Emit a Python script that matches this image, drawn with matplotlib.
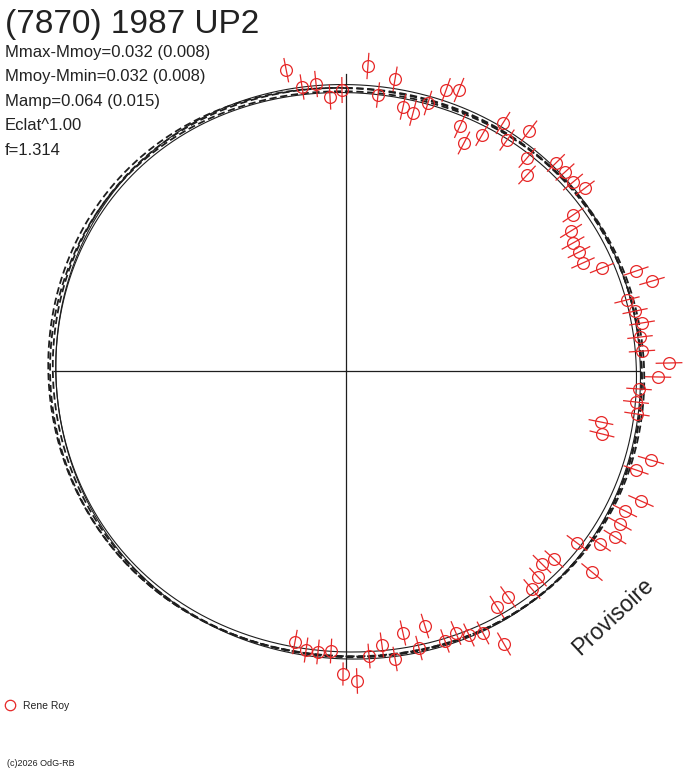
import numpy as np
import matplotlib
matplotlib.use("Agg")
import matplotlib.pyplot as plt
from matplotlib.lines import Line2D

plt.rcParams['font.family'] = ['Liberation Sans', 'DejaVu Sans']

# --- donnees : phase (0..1) et magnitude relative (mag) ---
phase = [0.969, 0.9758, 0.9837, 0.991, 0.998, 0.0117, 0.0187, 0.0268, 0.0342, 0.0408,
         0.0476, 0.0548, 0.0612, 0.0697, 0.0764, 0.0836, 0.0902, 0.0973, 0.1041, 0.1125,
         0.1191, 0.1261, 0.1330, 0.1399, 0.1464, 0.1546, 0.1618, 0.1687, 0.1753, 0.1823,
         0.1895, 0.1975, 0.2048, 0.2109, 0.2178, 0.2247, 0.2320, 0.2396, 0.2463, 0.2533,
         0.2600, 0.2672, 0.2736, 0.2817, 0.2886, 0.2954, 0.3025, 0.3162, 0.3241, 0.3311,
         0.3381, 0.3452, 0.3519, 0.3591, 0.3670, 0.3738, 0.3806, 0.3876, 0.4009, 0.4093,
         0.4164, 0.4232, 0.4305, 0.4366, 0.4439, 0.4520, 0.4588, 0.4657, 0.4729, 0.4790,
         0.4869, 0.4941, 0.5013, 0.5082, 0.5155, 0.5223, 0.5293]
mag = [0.0856, -0.011, -0.005, -0.0755, -0.0425, 0.0816, -0.058, 0.0334, -0.0965, -0.114,
       -0.0455, 0.045, 0.068, -0.095, -0.1625, -0.084, 0.022, -0.038, 0.0635, -0.0475,
       -0.111, 0.033, 0.0345, 0.032, 0.0605, -0.067, -0.119, -0.141, -0.136, -0.1415,
       -0.064, 0.0905, 0.1515, 0.006, 0.033, 0.0565, 0.037, 0.0405, 0.173, 0.118,
       0.0255, 0.016, 0.0285, -0.142, -0.124, 0.1466, 0.0905, 0.17, 0.119, 0.1275,
       0.139, 0.095, -0.0015, 0.147, -0.0395, -0.066, -0.0335, -0.0085, -0.051, -0.0405,
       0.1355, 0.0365, 0.0145, -0.021, -0.004, -0.107, -0.0095, -0.1015, 0.0185, -0.0605,
       -0.0125, 0.1085, 0.0725, -0.0405, -0.031, -0.0335, -0.064]
err = [0.062, 0.064, 0.066, 0.063, 0.065, 0.066, 0.064, 0.063, 0.065, 0.066,
       0.064, 0.063, 0.065, 0.066, 0.064, 0.063, 0.065, 0.064, 0.066, 0.064,
       0.063, 0.062, 0.063, 0.064, 0.060, 0.063, 0.064, 0.065, 0.063, 0.064,
       0.065, 0.066, 0.066, 0.065, 0.064, 0.065, 0.064, 0.066, 0.067, 0.066,
       0.064, 0.065, 0.064, 0.063, 0.064, 0.068, 0.066, 0.069, 0.067, 0.066,
       0.066, 0.065, 0.064, 0.068, 0.063, 0.064, 0.063, 0.064, 0.065, 0.066,
       0.066, 0.064, 0.063, 0.064, 0.062, 0.064, 0.063, 0.064, 0.062, 0.063,
       0.062, 0.064, 0.058, 0.062, 0.062, 0.063, 0.062]

# --- ajustements de Fourier (mag) : c0, a1, b1, a2, b2, a4 ---
fit_c0 = [0.01125, -0.0125, 0.015, 0.01125, 0.010]
fit_a1 = [-0.00625, -0.00875, -0.00875, -0.01625, -0.010]
fit_b1 = [0.013, 0.003, -0.002, 0.008, 0.008]
fit_a2 = [-0.01275, -0.0265, -0.0315, -0.0365, -0.024]
fit_b2 = [-0.0125, -0.0125, -0.0175, -0.0125, -0.015]
fit_a4 = [-0.0075, -0.0075, -0.0075, -0.0075, -0.0075]
fit_style = ['-', '-', (0, (4, 2)), (0, (4, 2)), (0, (4, 2))]
fit_width = [0.8, 0.8, 1.3, 1.3, 1.3]

title = "(7870) 1987 UP2"
info = ["Mmax-Mmoy=0.032 (0.008)", "Mmoy-Mmin=0.032 (0.008)",
        "Mamp=0.064 (0.015)", "Eclat^1.00", "f=1.314"]
observer = "Rene Roy"

W, H = 688, 768
RED = '#e62828'
INK = '#1e1e1e'
R0_PX = 289.0      # rayon (px) pour mag = 0
K_PX = 200.0       # px par magnitude
R_AX = 340.0       # rayon de l'axe polaire (px)
CX, CY = 345.5, 370.5

fig = plt.figure(figsize=(W / 100, H / 100), dpi=100)
ax = fig.add_axes([(CX - R_AX) / W, (H - CY - R_AX) / H, 2 * R_AX / W, 2 * R_AX / H],
                  projection='polar')
ax.set_theta_zero_location('N')
ax.set_theta_direction(-1)
rmin = -R0_PX / K_PX
ax.set_ylim(rmin, rmin + R_AX / K_PX)
ax.axis('off')

# axes en croix
for ang, length in [(0.0, 297), (0.25, 293), (0.5, 298), (0.75, 292)]:
    ax.plot([2 * np.pi * ang] * 2, [rmin, rmin + length / K_PX], color=INK, lw=0.9, clip_on=False)

# courbes ajustees
phi = np.linspace(0, 1, 721)
for c0, a1, b1, a2, b2, a4, ls, lw in zip(fit_c0, fit_a1, fit_b1, fit_a2, fit_b2, fit_a4,
                                          fit_style, fit_width):
    curve = (c0 + a1 * np.cos(2 * np.pi * phi) + b1 * np.sin(2 * np.pi * phi)
             + a2 * np.cos(4 * np.pi * phi) + b2 * np.sin(4 * np.pi * phi)
             + a4 * np.cos(8 * np.pi * phi))
    ax.plot(2 * np.pi * phi, curve, color=INK, ls=ls, lw=lw, clip_on=False)

# mesures
theta = 2 * np.pi * np.array(phase)
ax.errorbar(theta, mag, yerr=err, fmt='o', ms=8.5, mfc='none', mec=RED, mew=0.9,
            ecolor=RED, elinewidth=0.9, capsize=0, clip_on=False, zorder=5)

# textes
fig.text(5 / W, 1 - 33 / H, title, fontsize=24, color='#222222', va='baseline')
for i, line in enumerate(info):
    fig.text(5 / W, 1 - (57 + 24.5 * i) / H, line, fontsize=12, color='#222222', va='baseline')

fig.text(613 / W, 1 - 617 / H, "Provisoire", fontsize=16.5, color='#222222', rotation=43,
         ha='center', va='center')

fig.add_artist(Line2D([10 / W], [1 - 705 / H], marker='o', ms=7.5, mfc='none', mec=RED,
                      mew=0.9, transform=fig.transFigure))
fig.text(23 / W, 1 - 709 / H, observer, fontsize=7.5, color='#222222', va='baseline')
fig.text(7 / W, 1 - 766 / H, "(c)2026 OdG-RB", fontsize=6.5, color='#222222', va='baseline')

fig.savefig('out.png', dpi=100, facecolor='white')
